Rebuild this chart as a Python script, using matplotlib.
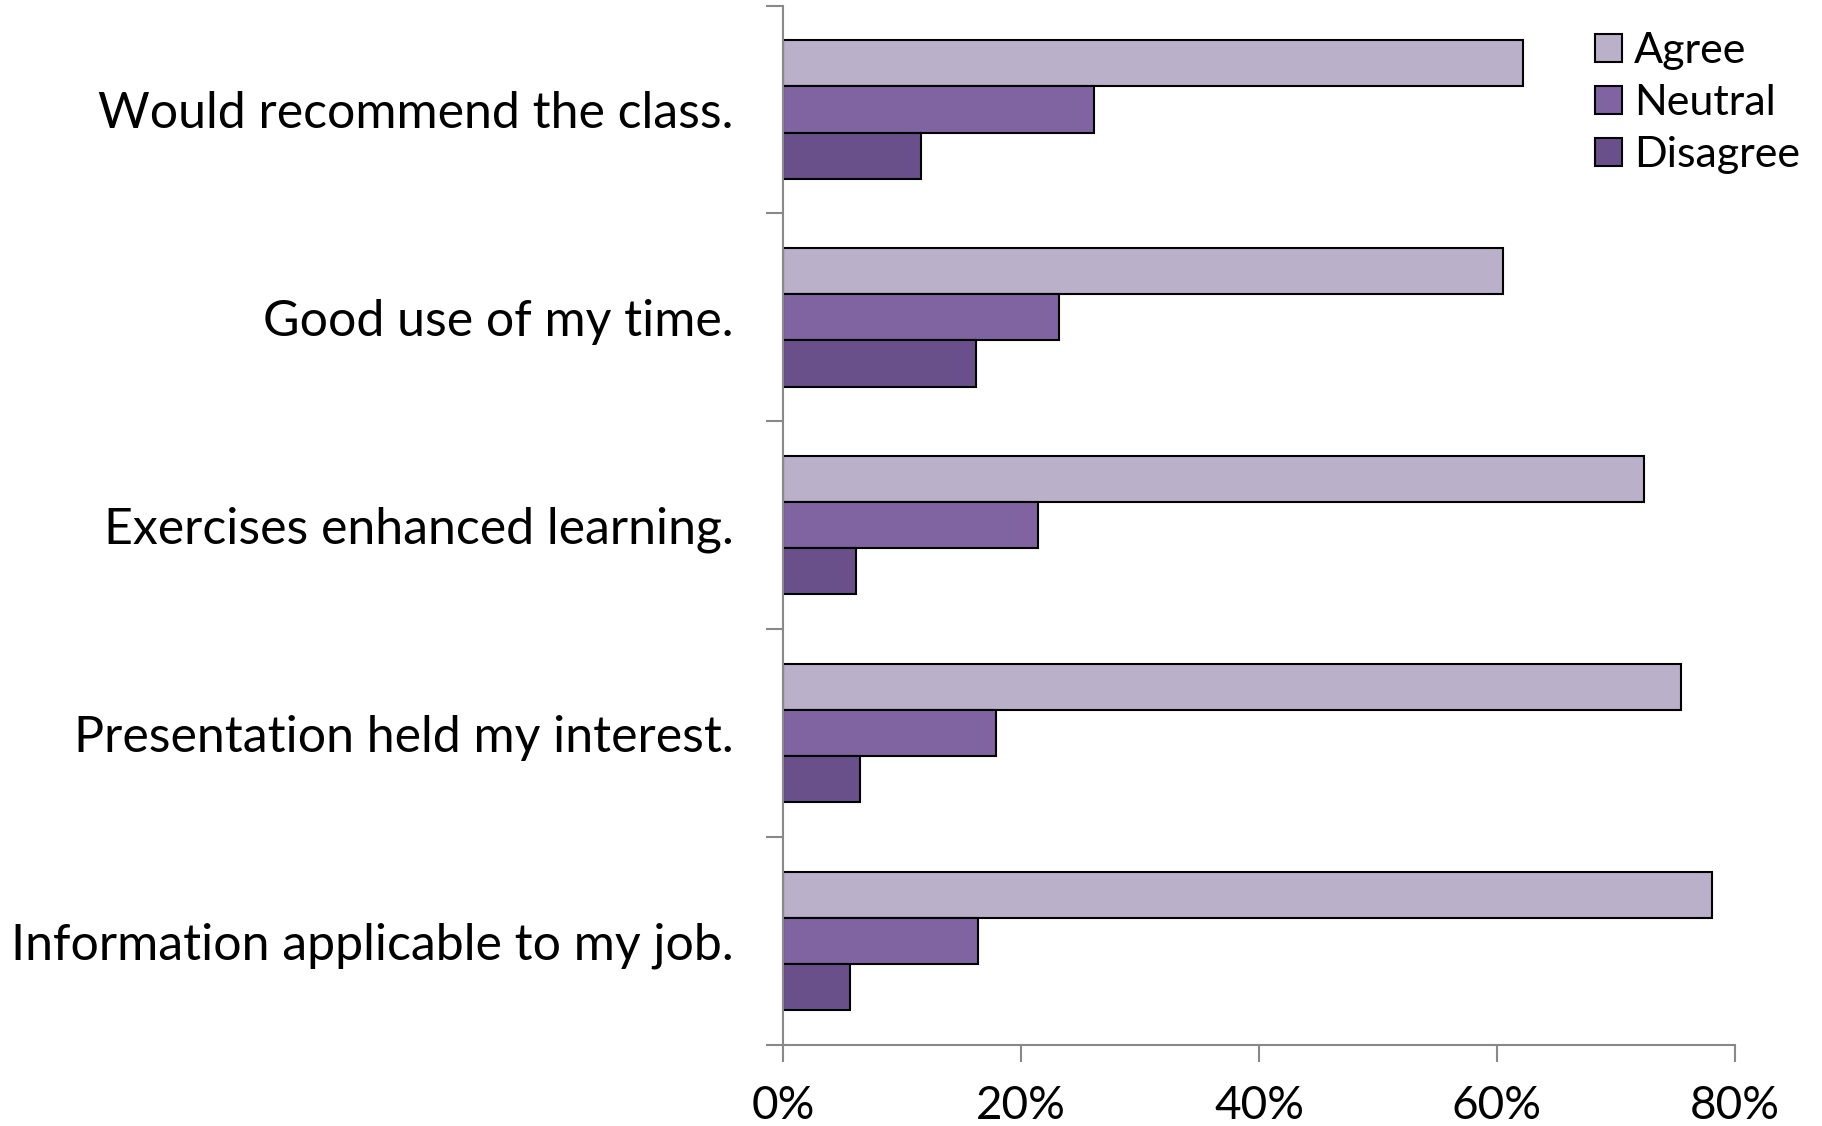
import matplotlib
matplotlib.use('Agg')
import matplotlib.pyplot as plt
from matplotlib.patches import Patch
import numpy as np

# survey data, top to bottom as shown
statements = ['Would recommend the class.', 'Good use of my time.',
              'Exercises enhanced learning.', 'Presentation held my interest.',
              'Information applicable to my job.']
agree = [62.2, 60.5, 72.4, 75.5, 78.1]
neutral = [26.1, 23.2, 21.4, 17.9, 16.4]
disagree = [11.6, 16.2, 6.1, 6.4, 5.6]
xticks = [0, 20, 40, 60, 80]

c_agree = '#BAB0C9'
c_neutral = '#8064A2'
c_disagree = '#69508A'

plt.rcParams['font.family'] = ['Lato', 'DejaVu Sans']

fig = plt.figure(figsize=(18.22, 11.26), dpi=100)
ax = fig.add_axes([0.430, 0.072, 0.522, 0.923])

n = len(statements)
pos = np.arange(n)[::-1]
h = 0.222

ax.barh(pos + h, agree, height=h, color=c_agree, edgecolor='black', linewidth=1.5)
ax.barh(pos, neutral, height=h, color=c_neutral, edgecolor='black', linewidth=1.5)
ax.barh(pos - h, disagree, height=h, color=c_disagree, edgecolor='black', linewidth=1.5)

ax.set_xlim(0, 80)
ax.set_ylim(-0.5, n - 0.5)

for s in ['top', 'right']:
    ax.spines[s].set_visible(False)
for s in ['left', 'bottom']:
    ax.spines[s].set_color('#888888')
    ax.spines[s].set_linewidth(1.5)

ax.set_xticks(xticks)
ax.set_xticklabels([f'{v}%' for v in xticks], fontsize=33)
ax.tick_params(axis='x', length=12, width=1.5, color='#888888', pad=17)

ax.set_yticks(np.arange(-0.5, n, 1.0))
ax.set_yticklabels([])
ax.tick_params(axis='y', which='major', length=12, width=1.5, color='#888888')
ax.set_yticks(pos, minor=True)
ax.set_yticklabels(statements, minor=True, fontsize=36)
ax.tick_params(axis='y', which='minor', length=0, pad=36)

handles = [Patch(facecolor=c_agree, edgecolor='black', linewidth=1.5),
           Patch(facecolor=c_neutral, edgecolor='black', linewidth=1.5),
           Patch(facecolor=c_disagree, edgecolor='black', linewidth=1.5)]
fig.legend(handles, ['Agree', 'Neutral', 'Disagree'], loc='upper left',
           bbox_to_anchor=(0.859, 0.998), frameon=False, fontsize=31,
           handlelength=0.62, handleheight=0.62, handletextpad=0.28,
           labelspacing=0.32, borderpad=0.2)

fig.savefig('out.png', dpi=100)
